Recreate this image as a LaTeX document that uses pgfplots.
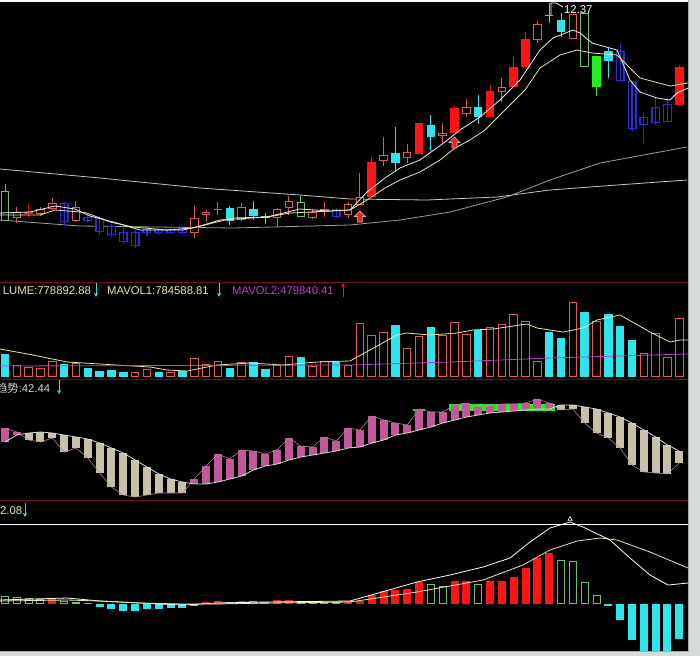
\documentclass[border=0pt]{standalone}
\usepackage{fontspec}
\setmainfont{Liberation Sans}
\newfontfamily\cjk{Noto Sans CJK SC}
\usepackage{pgfplots}
\usepackage{pgfplotstable}
\pgfplotsset{compat=1.18}

\definecolor{hred}{HTML}{E05A5A}
\definecolor{fred}{HTML}{FF1414}
\definecolor{cyn}{HTML}{30E4EC}
\definecolor{hgrn}{HTML}{70C070}
\definecolor{fgrn}{HTML}{22F022}
\definecolor{blu}{HTML}{2C2CDC}
\definecolor{lgrn}{HTML}{60D8A0}
\definecolor{pnk}{HTML}{C0589A}
\definecolor{bge}{HTML}{C8C0A8}
\definecolor{sep}{HTML}{701018}
\definecolor{pyel}{HTML}{EDE6A8}
\definecolor{mag}{HTML}{C040C8}
\definecolor{bord}{HTML}{D6DADA}

\pgfdeclareplotmark{uarr}{%
  \pgfpathmoveto{\pgfqpoint{0pt}{6pt}}%
  \pgfpathlineto{\pgfqpoint{5.5pt}{0.5pt}}%
  \pgfpathlineto{\pgfqpoint{2.5pt}{0.5pt}}%
  \pgfpathlineto{\pgfqpoint{2.5pt}{-5pt}}%
  \pgfpathlineto{\pgfqpoint{-2.5pt}{-5pt}}%
  \pgfpathlineto{\pgfqpoint{-2.5pt}{0.5pt}}%
  \pgfpathlineto{\pgfqpoint{-5.5pt}{0.5pt}}%
  \pgfpathclose\pgfusepathqfillstroke}

\pgfplotsset{
  only/.style={restrict expr to domain={abs(\thisrow{t}-#1)}{0:0.5}},
  seg/.style 2 args={draw=none, mark=none, forget plot,
    error bars/y dir=plus, error bars/y explicit,
    error bars/error mark=none,
    error bars/error bar style={draw=#1, line width=#2, solid}},
}

% price candles, in screen units (y grows downwards)
\pgfplotstableread{
i bt bb wt wb t
0 191 221 184 221 4
1 212 218 207 223 1
2 212 214 204 217 2
3 209 214 207 216 1
4 203 209 198 210 1
5 203 222 202 225 6
6 207 221 201 222 1
7 217 221 215 223 6
8 218 232 216 235 6
9 226 235 224 237 6
10 232 242 228 244 6
11 232 246 230 248 6
12 229 233 227 236 6
13 229 233 228 235 6
14 229 233 228 234 6
15 228 233 226 235 6
16 218 233 206 238 1
17 212 215 210 222 1
18 209 210 202 215 1
19 208 221 206 225 3
20 207 220 203 221 1
21 209 216 201 220 3
22 216 218 213 224 7
23 209 218 208 227 1
24 201 208 196 215 1
25 202 217 196 217 4
26 212 218 210 219 1
27 209 212 202 217 1
28 209 217 208 218 6
29 204 215 202 218 1
30 197 205 173 205 1
31 162 197 157 197 2
32 155 161 137 166 1
33 153 163 127 172 3
34 152 158 144 163 1
35 123 154 123 154 2
36 125 137 115 151 3
37 133 136 123 143 1
38 108 133 106 133 2
39 107 114 99 117 1
40 107 117 95 124 3
41 91 117 85 117 2
42 87 92 78 102 1
43 67 87 57 87 2
44 39 67 32 67 2
45 24 40 21 43 1
46 15 16 3 23 3
47 20 32 13 37 3
48 14 39 14 39 1
49 13 67 13 67 4
50 56 87 56 96 5
51 51 61 48 78 3
52 51 81 43 81 6
53 81 129 81 131 6
54 117 125 113 143 6
55 107 123 97 125 6
56 104 122 98 122 6
57 67 105 65 105 2
}\candles

\pgfplotstableread{
i v t
0 354 3
1 365 1
2 367 1
3 368 1
4 361 1
5 364 3
6 363 1
7 368 3
8 371 3
9 370 3
10 372 3
11 372 1
12 369 1
13 372 3
14 372 1
15 371 3
16 358 1
17 364 1
18 361 1
19 368 3
20 362 1
21 362 3
22 369 3
23 365 1
24 356 1
25 357 3
26 366 1
27 361 1
28 362 3
29 365 1
30 323 1
31 335 1
32 332 1
33 325 3
34 348 1
35 336 1
36 327 3
37 335 1
38 322 1
39 334 1
40 330 3
41 327 1
42 324 1
43 314 1
44 321 1
45 361 1
46 332 3
47 338 3
48 302 1
49 312 3
50 321 1
51 314 3
52 326 3
53 340 3
54 353 1
55 333 1
56 357 1
57 318 1
}\vol

\pgfplotstableread{
i a b t
0 428 442 1
1 432 435 1
2 433 440 2
3 432 442 2
4 433 438 2
5 435 452 2
6 437 448 2
7 439 458 2
8 443 473 2
9 448 487 2
10 453 495 2
11 460 497 2
12 467 495 2
13 474 493 2
14 479 493 2
15 482 493 2
16 479 484 1
17 466 484 1
18 454 482 1
19 459 479 1
20 450 476 1
21 451 470 1
22 454 466 1
23 450 464 1
24 438 460 1
25 446 457 1
26 447 455 1
27 437 453 1
28 441 451 1
29 428 448 1
30 430 447 1
31 416 443 1
32 420 440 1
33 423 435 1
34 425 433 1
35 409 430 1
36 412 427 1
37 412 423 1
38 405 420 1
39 403 417 1
40 407 415 1
41 406 413 1
42 404 412 1
43 404 411 1
44 403 410 1
45 399 409 1
46 403 409 1
47 405 410 2
48 405 409 2
49 407 423 2
50 409 433 2
51 413 438 2
52 417 448 2
53 423 465 2
54 430 472 2
55 437 473 2
56 445 474 2
57 451 463 2
}\trend

\pgfplotstableread{
i a b
35 409 411
38 404 411
39 404 411
40 404 411
41 404 411
42 404 411
43 404 411
44 404 411
45 404 411
46 404 411
}\trgreen

\pgfplotstableread{
i v t
0 596 1
1 597 1
2 598 1
3 599 1
4 599 2
5 601 1
6 602 1
7 603 1
8 607 3
9 609 3
10 611 3
11 611 3
12 609 3
13 609 3
14 608 3
15 608 3
16 606 3
17 602 2
18 601 2
19 602 1
20 601 2
21 601 1
22 602 1
23 600 2
24 600 2
25 601 1
26 601 1
27 602 1
28 602 1
29 601 2
30 601 2
31 595 2
32 591 2
33 590 2
34 589 2
35 582 2
36 584 1
37 586 1
38 581 2
39 581 2
40 584 1
41 581 2
42 581 2
43 577 2
44 568 2
45 558 2
46 553 2
47 560 1
48 561 1
49 582 1
50 595 1
51 606 3
52 620 3
53 640 3
54 652 3
55 652 3
56 652 3
57 639 3
}\macd

\newcommand\xcol{5+11.83*\thisrow{i}}

\begin{document}
\begin{tikzpicture}
\begin{axis}[
  width=700pt, height=656pt, scale only axis,
  xmin=0, xmax=700, ymin=0, ymax=656, y dir=reverse,
  axis background/.style={fill=black},
  axis line style={draw=none}, xtick=\empty, ytick=\empty,
  font=\fontsize{11.3}{13}\selectfont,
]
% panel separators
\addplot[sep, line width=1pt] coordinates {(0,282) (700,282)};
\addplot[sep, line width=1pt] coordinates {(0,379) (700,379)};
\addplot[sep, line width=1pt] coordinates {(0,500) (700,500)};
\addplot[white, line width=1pt] coordinates {(0,524) (700,524)};

% long moving averages
\addplot[white!78!black, line width=0.8pt] coordinates {(0,169) (100,178) (200,188) (300,195) (350,199) (427,200) (497,197) (550,190) (617,185) (687,180)};
\addplot[color={rgb,255:red,150;green,165;blue,150}, line width=0.8pt] coordinates {(0,220) (80,226) (233,228) (350,225) (400,220) (450,212) (507,197) (550,180) (600,163) (687,147)};

% candles: wicks
\addplot[seg={hred}{1pt}, only=1] table[x expr=\xcol, y=wt, y error plus expr=\thisrow{wb}-\thisrow{wt}] {\candles};
\addplot[seg={fred}{1pt}, only=2] table[x expr=\xcol, y=wt, y error plus expr=\thisrow{wb}-\thisrow{wt}] {\candles};
\addplot[seg={cyn}{1pt}, only=3] table[x expr=\xcol, y=wt, y error plus expr=\thisrow{wb}-\thisrow{wt}] {\candles};
\addplot[seg={hgrn}{1pt}, only=4] table[x expr=\xcol, y=wt, y error plus expr=\thisrow{wb}-\thisrow{wt}] {\candles};
\addplot[seg={fgrn}{1pt}, only=5] table[x expr=\xcol, y=wt, y error plus expr=\thisrow{wb}-\thisrow{wt}] {\candles};
\addplot[seg={blu}{1.2pt}, only=6] table[x expr=\xcol, y=wt, y error plus expr=\thisrow{wb}-\thisrow{wt}] {\candles};
\addplot[seg={lgrn}{1pt}, only=7] table[x expr=\xcol, y=wt, y error plus expr=\thisrow{wb}-\thisrow{wt}] {\candles};
% candles: bodies
\addplot[seg={hred}{8.5pt}, only=1] table[x expr=\xcol, y=bt, y error plus expr={max(\thisrow{bb}-\thisrow{bt},1)}] {\candles};
\addplot[seg={black}{6.5pt}, only=1] table[x expr=\xcol, y expr=\thisrow{bt}+1, y error plus expr={max(\thisrow{bb}-\thisrow{bt}-2,0)}] {\candles};
\addplot[seg={fred}{8.5pt}, only=2] table[x expr=\xcol, y=bt, y error plus expr={max(\thisrow{bb}-\thisrow{bt},1)}] {\candles};
\addplot[seg={cyn}{8.5pt}, only=3] table[x expr=\xcol, y=bt, y error plus expr={max(\thisrow{bb}-\thisrow{bt},1)}] {\candles};
\addplot[seg={hgrn}{8.5pt}, only=4] table[x expr=\xcol, y=bt, y error plus expr={max(\thisrow{bb}-\thisrow{bt},1)}] {\candles};
\addplot[seg={black}{6.5pt}, only=4] table[x expr=\xcol, y expr=\thisrow{bt}+1, y error plus expr={max(\thisrow{bb}-\thisrow{bt}-2,0)}] {\candles};
\addplot[seg={fgrn}{8.5pt}, only=5] table[x expr=\xcol, y=bt, y error plus expr={max(\thisrow{bb}-\thisrow{bt},1)}] {\candles};
\addplot[seg={blu}{9pt}, only=6] table[x expr=\xcol, y=bt, y error plus expr={max(\thisrow{bb}-\thisrow{bt},1)}] {\candles};
\addplot[seg={black}{6.2pt}, only=6] table[x expr=\xcol, y expr=\thisrow{bt}+1.4, y error plus expr={max(\thisrow{bb}-\thisrow{bt}-2.8,0)}] {\candles};
\addplot[seg={blu}{1.2pt}, only=6] table[x expr=\xcol, y=bt, y error plus expr=\thisrow{bb}-\thisrow{bt}] {\candles};
\addplot[seg={lgrn}{8.5pt}, only=7] table[x expr=\xcol, y=bt, y error plus expr={max(\thisrow{bb}-\thisrow{bt},1)}] {\candles};

% short moving averages
\addplot[white!95!black, line width=0.8pt] coordinates {(0,213) (30,212) (55,206) (75,209) (90,216) (117,223) (140,230) (183,230) (200,226) (220,220) (267,217) (300,209) (330,211) (350,210) (367,192) (385,178) (400,168) (420,160) (445,142) (460,130) (480,117) (500,100) (520,80) (540,50) (553,38) (573,30) (580,33) (592,43) (617,50) (630,80) (640,92) (657,98) (670,100) (677,93) (688,88)};
\addplot[pyel, line width=0.8pt] coordinates {(0,215) (40,215) (55,210) (80,212) (87,213) (110,222) (133,227) (167,230) (193,228) (233,218) (267,217) (290,213) (350,210) (367,200) (385,188) (400,180) (420,172) (440,160) (455,148) (470,140) (485,130) (500,115) (515,100) (525,90) (540,68) (560,55) (577,50) (592,53) (617,55) (627,65) (640,78) (670,86) (688,83)};

% buy arrows
\addplot[only marks, mark=uarr, draw={rgb,255:red,240;green,170;blue,170}, fill={rgb,255:red,225;green,40;blue,40}, line width=0.6pt] coordinates {(359.9,217) (454.5,143)};

% high label
\draw[white, line width=0.7pt] (axis cs:551,15) -- (axis cs:551,3) -- (axis cs:556,3) -- (axis cs:563,7);
\node[anchor=base west, text=white, inner sep=0pt] at (axis cs:564,13) {12.37};

% volume
\addplot[seg={hred}{8.5pt}, only=1] table[x expr=\xcol, y=v, y error plus expr=377-\thisrow{v}] {\vol};
\addplot[seg={black}{6.5pt}, only=1] table[x expr=\xcol, y expr=\thisrow{v}+1, y error plus expr={max(375-\thisrow{v},0)}] {\vol};
\addplot[seg={cyn}{8.5pt}, only=3] table[x expr=\xcol, y=v, y error plus expr=377-\thisrow{v}] {\vol};
\addplot[pyel, line width=0.8pt] coordinates {(0,349) (33,355) (67,362) (100,364) (150,367) (167,370) (187,371) (217,365) (250,363) (283,365) (317,362) (350,361) (397,335) (407,333) (430,335) (457,333) (473,330) (493,329) (527,324) (537,328) (563,332) (583,328) (597,320) (620,315) (650,332) (670,342) (680,340) (688,340)};
\addplot[mag, line width=0.8pt] coordinates {(0,366) (350,365) (450,362) (550,358) (617,356) (688,354)};
\node[anchor=base west, text=pyel, inner sep=0pt] at (axis cs:2.7,294) {LUME:778892.88};
\node[anchor=base west, text=pyel, inner sep=0pt] at (axis cs:107,294) {MAVOL1:784588.81};
\node[anchor=base west, text=mag, inner sep=0pt] at (axis cs:232,294) {MAVOL2:479840.41};
\draw[cyn, line width=0.9pt, -stealth] (axis cs:96,283) -- (axis cs:96,297);
\draw[cyn, line width=0.9pt, -stealth] (axis cs:219,283) -- (axis cs:219,297);
\draw[fred, line width=0.9pt, -stealth] (axis cs:343,297) -- (axis cs:343,283);

% trend
\addplot[seg={fgrn}{11.8pt}] table[x expr=\xcol, y=a, y error plus expr=\thisrow{b}-\thisrow{a}] {\trgreen};
\addplot[seg={pnk}{8pt}, only=1] table[x expr=\xcol, y=a, y error plus expr=\thisrow{b}-\thisrow{a}] {\trend};
\addplot[seg={bge}{8pt}, only=2] table[x expr=\xcol, y=a, y error plus expr=\thisrow{b}-\thisrow{a}] {\trend};
\addplot[white!85!black, line width=0.8pt] table[x expr=\xcol, y expr={\thisrow{t}==1 ? \thisrow{b} : \thisrow{a}}] {\trend};
\addplot[color={rgb,255:red,175;green,135;blue,150}, line width=0.6pt] table[x expr=\xcol, y expr={\thisrow{t}==1 ? \thisrow{a} : \thisrow{b}}] {\trend};
\node[anchor=base west, text=white!85!black, inner sep=0pt] at (axis cs:-4,392) {{\cjk 趋势}:42.44};
\draw[cyn, line width=0.9pt, -stealth] (axis cs:59,380) -- (axis cs:59,394);

% MACD
\addplot[seg={hgrn}{8pt}, only=1] table[x expr=\xcol, y expr={min(\thisrow{v},604)}, y error plus expr={max(abs(\thisrow{v}-604),1)}] {\macd};
\addplot[seg={black}{6pt}, only=1] table[x expr=\xcol, y expr={min(\thisrow{v},604)+1}, y error plus expr={max(abs(\thisrow{v}-604)-2,0)}] {\macd};
\addplot[seg={fred}{8pt}, only=2] table[x expr=\xcol, y expr={min(\thisrow{v},604)}, y error plus expr={max(abs(\thisrow{v}-604),1)}] {\macd};
\addplot[seg={cyn}{8pt}, only=3] table[x expr=\xcol, y expr={min(\thisrow{v},604)}, y error plus expr={max(abs(\thisrow{v}-604),1)}] {\macd};
\addplot[white, line width=0.8pt] coordinates {(0,600) (67,598) (100,601) (140,603) (183,605) (217,603) (267,602) (350,601) (417,582) (450,575) (483,567) (510,558) (530,542) (550,528) (570,522) (583,527) (610,540) (630,558) (650,575) (668,585) (688,583)};
\addplot[pyel, line width=0.8pt] coordinates {(0,601) (67,600) (100,601) (140,603) (183,604) (217,604) (267,603) (350,602) (417,592) (483,580) (523,565) (550,550) (577,541) (600,538) (617,540) (650,552) (688,568)};
\addplot[only marks, mark=triangle, mark size=2.5pt, white, line width=0.6pt] coordinates {(570,519)};
\node[anchor=base west, text=pyel, inner sep=0pt] at (axis cs:0,514) {2.08};
\draw[cyn, line width=0.9pt, -stealth] (axis cs:25,503) -- (axis cs:25,517);

% window frame
\addplot[white, line width=2pt] coordinates {(0,0.5) (700,0.5)};
\fill[bord] (axis cs:688,0) rectangle (axis cs:700,656);
\fill[bord] (axis cs:0,651) rectangle (axis cs:700,656);
\draw[gray!70, line width=0.8pt] (axis cs:688.5,0) -- (axis cs:688.5,651) -- (axis cs:0,651);
\end{axis}
\pgfresetboundingbox
\useasboundingbox (current axis.south west) rectangle (current axis.north east);
\end{tikzpicture}
\end{document}
